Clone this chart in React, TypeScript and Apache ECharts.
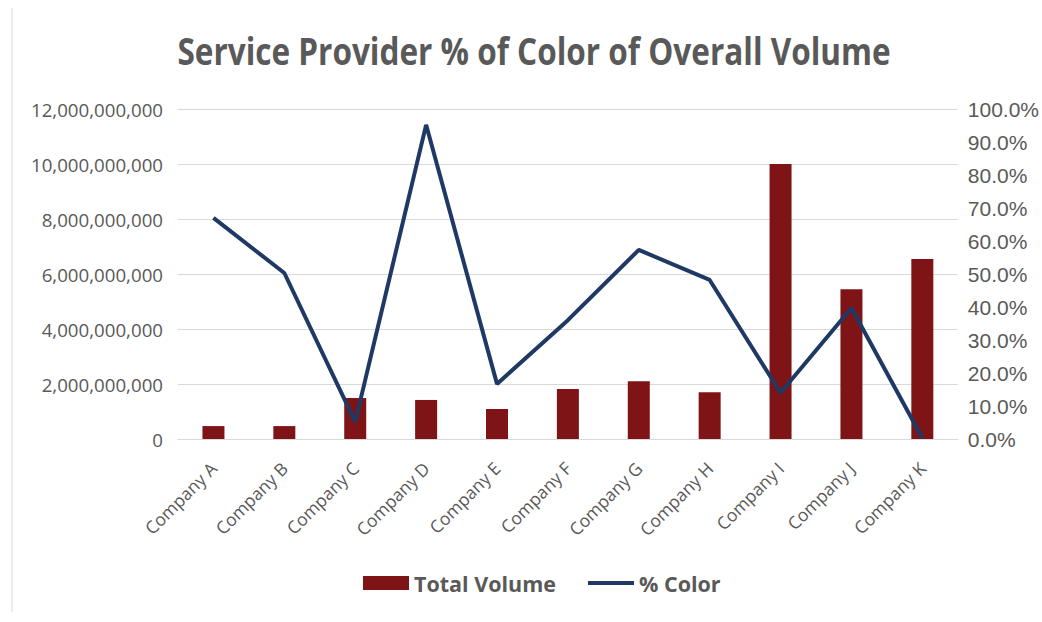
import React, { useEffect, useRef } from "react";
import * as echarts from "echarts";

const categories = ["Company A", "Company B", "Company C", "Company D", "Company E", "Company F", "Company G", "Company H", "Company I", "Company J", "Company K"];
const totalVolume = [470000000, 470000000, 1490000000, 1420000000, 1090000000, 1820000000, 2100000000, 1700000000, 10000000000, 5450000000, 6550000000];
const pctColor = [0.67, 0.503, 0.052, 0.952, 0.167, 0.36, 0.573, 0.482, 0.14, 0.397, 0.003];
const titleText = "Service Provider % of Color of Overall Volume";

const fmtNum = (v: number) => v.toLocaleString("en-US");
const fmtPct = (v: number) => (v * 100).toFixed(1) + "%";

export default function App() {
  const ref = useRef<HTMLDivElement>(null);
  useEffect(() => {
    if (!ref.current) return;
    const chart = echarts.init(ref.current, null, { renderer: "svg" });
    const font = "'Open Sans', 'Liberation Sans', sans-serif";
    chart.setOption({
      animation: false,
      backgroundColor: "#ffffff",
      textStyle: { fontFamily: font },
      graphic: [
        { type: "line", shape: { x1: 12, y1: 8, x2: 12, y2: 612 }, style: { stroke: "#d9d9d9", lineWidth: 1 } },
        {
          type: "text",
          x: 534,
          y: 50,
          scaleX: 0.83,
          style: {
            text: titleText,
            align: "center",
            verticalAlign: "middle",
            fontSize: 38,
            fontWeight: "bold",
            fontFamily: font,
            fill: "#595959",
          },
        },
      ],
      legend: {
        bottom: 23,
        left: 358,
        itemGap: 32,
        itemWidth: 46,
        itemHeight: 14,
        textStyle: { fontSize: 21.5, fontWeight: "bold", color: "#595959", fontFamily: font },
        data: [
          { name: "Total Volume", icon: "rect" },
          { name: "% Color", icon: "path://M0,0 L48,0 L48,4 L0,4 Z" },
        ],
      },
      grid: { left: 178, right: 79, top: 109, bottom: 183 },
      xAxis: {
        type: "category",
        data: categories,
        axisLine: { lineStyle: { color: "#d9d9d9" } },
        axisTick: { show: false },
        axisLabel: { rotate: 45, fontSize: 17.5, color: "#595959", margin: 26, interval: 0 },
      },
      yAxis: [
        {
          type: "value",
          min: 0,
          max: 12000000000,
          interval: 2000000000,
          axisLine: { show: false },
          axisTick: { show: false },
          splitLine: { lineStyle: { color: "#d9d9d9" } },
          axisLabel: { fontSize: 18.7, color: "#595959", margin: 15, formatter: fmtNum },
        },
        {
          type: "value",
          min: 0,
          max: 1,
          interval: 0.1,
          axisLine: { show: false },
          axisTick: { show: false },
          splitLine: { show: false },
          axisLabel: { fontSize: 21, color: "#595959", margin: 10, formatter: fmtPct, fontFamily: "'Liberation Sans', Arial, sans-serif" },
        },
      ],
      series: [
        {
          name: "Total Volume",
          type: "bar",
          data: totalVolume,
          barWidth: 22,
          itemStyle: { color: "#7f1416" },
        },
        {
          name: "% Color",
          type: "line",
          yAxisIndex: 1,
          data: pctColor,
          symbol: "none",
          lineStyle: { color: "#1f3864", width: 4 },
          itemStyle: { color: "#1f3864" },
        },
      ],
    });
    return () => chart.dispose();
  }, []);
  return <div ref={ref} style={{ position: "fixed", left: 0, top: 0, width: 1042, height: 622 }} />;
}
